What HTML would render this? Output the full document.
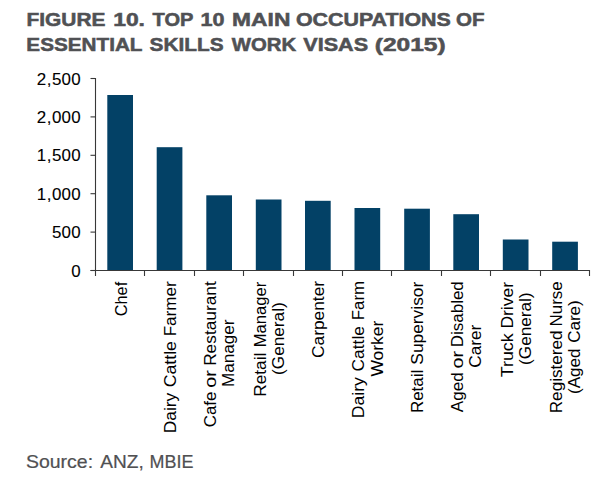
<!DOCTYPE html>
<html><head><meta charset="utf-8"><style>
html,body{margin:0;padding:0;background:#fff;width:600px;height:478px;overflow:hidden}
svg{display:block;font-family:"Liberation Sans",sans-serif}
</style></head><body>
<svg width="600" height="478" viewBox="0 0 600 478">
<rect x="0" y="0" width="600" height="478" fill="#fff"/>
<rect x="107.30" y="95.00" width="25.7" height="175.50" fill="#034166"/>
<rect x="156.70" y="147.20" width="25.7" height="123.30" fill="#034166"/>
<rect x="206.30" y="195.30" width="25.7" height="75.20" fill="#034166"/>
<rect x="255.80" y="199.50" width="25.7" height="71.00" fill="#034166"/>
<rect x="305.00" y="200.80" width="25.7" height="69.70" fill="#034166"/>
<rect x="354.50" y="208.00" width="25.7" height="62.50" fill="#034166"/>
<rect x="404.20" y="208.70" width="25.7" height="61.80" fill="#034166"/>
<rect x="453.30" y="214.20" width="25.7" height="56.30" fill="#034166"/>
<rect x="502.80" y="239.50" width="25.7" height="31.00" fill="#034166"/>
<rect x="552.20" y="241.70" width="25.7" height="28.80" fill="#034166"/>
<path d="M95.5 78 V276 M90.5 270.5 H589.5 V276" stroke="#383838" stroke-width="1.1" fill="none"/>
<path d="M90.5 78.50 H95.5" stroke="#383838" stroke-width="1.1"/>
<path d="M90.5 116.90 H95.5" stroke="#383838" stroke-width="1.1"/>
<path d="M90.5 155.30 H95.5" stroke="#383838" stroke-width="1.1"/>
<path d="M90.5 193.70 H95.5" stroke="#383838" stroke-width="1.1"/>
<path d="M90.5 232.10 H95.5" stroke="#383838" stroke-width="1.1"/>
<path d="M90.5 270.50 H95.5" stroke="#383838" stroke-width="1.1"/>
<path d="M144.50 270.5 V276" stroke="#383838" stroke-width="1.1"/>
<path d="M194.50 270.5 V276" stroke="#383838" stroke-width="1.1"/>
<path d="M243.50 270.5 V276" stroke="#383838" stroke-width="1.1"/>
<path d="M293.50 270.5 V276" stroke="#383838" stroke-width="1.1"/>
<path d="M342.50 270.5 V276" stroke="#383838" stroke-width="1.1"/>
<path d="M391.50 270.5 V276" stroke="#383838" stroke-width="1.1"/>
<path d="M441.50 270.5 V276" stroke="#383838" stroke-width="1.1"/>
<path d="M490.50 270.5 V276" stroke="#383838" stroke-width="1.1"/>
<path d="M540.50 270.5 V276" stroke="#383838" stroke-width="1.1"/>
<text transform="scale(1.04 1)" x="40.00 47.26 54.52 63.75 72.98" y="84.70" font-size="16.3" stroke="#000" stroke-width="0.1" text-anchor="middle">2,500</text>
<text transform="scale(1.04 1)" x="40.00 47.26 54.52 63.75 72.98" y="123.10" font-size="16.3" stroke="#000" stroke-width="0.1" text-anchor="middle">2,000</text>
<text transform="scale(1.04 1)" x="40.00 47.26 54.52 63.75 72.98" y="161.50" font-size="16.3" stroke="#000" stroke-width="0.1" text-anchor="middle">1,500</text>
<text transform="scale(1.04 1)" x="40.00 47.26 54.52 63.75 72.98" y="199.90" font-size="16.3" stroke="#000" stroke-width="0.1" text-anchor="middle">1,000</text>
<text transform="scale(1.04 1)" x="54.52 63.75 72.98" y="238.30" font-size="16.3" stroke="#000" stroke-width="0.1" text-anchor="middle">500</text>
<text transform="scale(1.04 1)" x="72.98" y="276.70" font-size="16.3" stroke="#000" stroke-width="0.1" text-anchor="middle">0</text>
<text x="26.52" y="26.30" font-size="19.1" font-weight="bold" fill="#505154" stroke="#505154" stroke-width="0.55" textLength="78.88" lengthAdjust="spacingAndGlyphs">FIGURE</text>
<text x="113.19" y="26.30" font-size="19.1" font-weight="bold" fill="#505154" stroke="#505154" stroke-width="0.55" textLength="31.78" lengthAdjust="spacingAndGlyphs">10.</text>
<text x="152.50" y="26.30" font-size="19.1" font-weight="bold" fill="#505154" stroke="#505154" stroke-width="0.55" textLength="40.91" lengthAdjust="spacingAndGlyphs">TOP</text>
<text x="200.62" y="26.30" font-size="19.1" font-weight="bold" fill="#505154" stroke="#505154" stroke-width="0.55" textLength="23.98" lengthAdjust="spacingAndGlyphs">10</text>
<text x="232.14" y="26.30" font-size="19.1" font-weight="bold" fill="#505154" stroke="#505154" stroke-width="0.55" textLength="58.23" lengthAdjust="spacingAndGlyphs">MAIN</text>
<text x="295.93" y="26.30" font-size="19.1" font-weight="bold" fill="#505154" stroke="#505154" stroke-width="0.55" textLength="154.85" lengthAdjust="spacingAndGlyphs">OCCUPATIONS</text>
<text x="456.13" y="26.30" font-size="19.1" font-weight="bold" fill="#505154" stroke="#505154" stroke-width="0.55" textLength="28.50" lengthAdjust="spacingAndGlyphs">OF</text>
<text x="26.34" y="50.80" font-size="19.1" font-weight="bold" fill="#505154" stroke="#505154" stroke-width="0.55" textLength="116.16" lengthAdjust="spacingAndGlyphs">ESSENTIAL</text>
<text x="149.63" y="50.80" font-size="19.1" font-weight="bold" fill="#505154" stroke="#505154" stroke-width="0.55" textLength="74.04" lengthAdjust="spacingAndGlyphs">SKILLS</text>
<text x="231.70" y="50.80" font-size="19.1" font-weight="bold" fill="#505154" stroke="#505154" stroke-width="0.55" textLength="64.42" lengthAdjust="spacingAndGlyphs">WORK</text>
<text x="303.30" y="50.80" font-size="19.1" font-weight="bold" fill="#505154" stroke="#505154" stroke-width="0.55" textLength="64.85" lengthAdjust="spacingAndGlyphs">VISAS</text>
<text x="374.74" y="50.80" font-size="19.1" font-weight="bold" fill="#505154" stroke="#505154" stroke-width="0.55" textLength="70.97" lengthAdjust="spacingAndGlyphs">(2015)</text>
<text transform="translate(126.50 316.26) rotate(-90)" font-size="16" textLength="34.46" lengthAdjust="spacingAndGlyphs">Chef</text>
<text transform="translate(175.90 336.37) rotate(-90)" font-size="16" textLength="54.95" lengthAdjust="spacingAndGlyphs">Farmer</text>
<text transform="translate(175.90 387.32) rotate(-90)" font-size="16" textLength="46.22" lengthAdjust="spacingAndGlyphs">Cattle</text>
<text transform="translate(175.90 433.22) rotate(-90)" font-size="16" textLength="40.52" lengthAdjust="spacingAndGlyphs">Dairy</text>
<text transform="translate(216.15 365.87) rotate(-90)" font-size="16" textLength="84.57" lengthAdjust="spacingAndGlyphs">Restaurant</text>
<text transform="translate(216.15 387.68) rotate(-90)" font-size="16" textLength="17.53" lengthAdjust="spacingAndGlyphs">or</text>
<text transform="translate(216.15 427.19) rotate(-90)" font-size="16" textLength="35.60" lengthAdjust="spacingAndGlyphs">Cafe</text>
<text transform="translate(234.45 387.05) rotate(-90)" font-size="16" textLength="67.38" lengthAdjust="spacingAndGlyphs">Manager</text>
<text transform="translate(265.55 347.21) rotate(-90)" font-size="16" textLength="65.44" lengthAdjust="spacingAndGlyphs">Manager</text>
<text transform="translate(265.55 396.82) rotate(-90)" font-size="16" textLength="44.13" lengthAdjust="spacingAndGlyphs">Retail</text>
<text transform="translate(283.85 374.89) rotate(-90)" font-size="16" textLength="72.58" lengthAdjust="spacingAndGlyphs">(General)</text>
<text transform="translate(324.10 357.97) rotate(-90)" font-size="16" textLength="77.06" lengthAdjust="spacingAndGlyphs">Carpenter</text>
<text transform="translate(364.35 320.17) rotate(-90)" font-size="16" textLength="39.14" lengthAdjust="spacingAndGlyphs">Farm</text>
<text transform="translate(364.35 371.41) rotate(-90)" font-size="16" textLength="45.28" lengthAdjust="spacingAndGlyphs">Cattle</text>
<text transform="translate(364.35 418.24) rotate(-90)" font-size="16" textLength="41.05" lengthAdjust="spacingAndGlyphs">Dairy</text>
<text transform="translate(382.65 376.58) rotate(-90)" font-size="16" textLength="55.96" lengthAdjust="spacingAndGlyphs">Worker</text>
<text transform="translate(422.90 364.64) rotate(-90)" font-size="16" textLength="82.86" lengthAdjust="spacingAndGlyphs">Supervisor</text>
<text transform="translate(422.90 413.10) rotate(-90)" font-size="16" textLength="43.28" lengthAdjust="spacingAndGlyphs">Retail</text>
<text transform="translate(463.15 347.22) rotate(-90)" font-size="16" textLength="66.01" lengthAdjust="spacingAndGlyphs">Disabled</text>
<text transform="translate(463.15 368.48) rotate(-90)" font-size="16" textLength="17.53" lengthAdjust="spacingAndGlyphs">or</text>
<text transform="translate(463.15 412.20) rotate(-90)" font-size="16" textLength="39.90" lengthAdjust="spacingAndGlyphs">Aged</text>
<text transform="translate(481.45 367.66) rotate(-90)" font-size="16" textLength="42.99" lengthAdjust="spacingAndGlyphs">Carer</text>
<text transform="translate(512.55 328.60) rotate(-90)" font-size="16" textLength="46.63" lengthAdjust="spacingAndGlyphs">Driver</text>
<text transform="translate(512.55 377.24) rotate(-90)" font-size="16" textLength="43.88" lengthAdjust="spacingAndGlyphs">Truck</text>
<text transform="translate(530.85 364.89) rotate(-90)" font-size="16" textLength="72.47" lengthAdjust="spacingAndGlyphs">(General)</text>
<text transform="translate(561.95 326.45) rotate(-90)" font-size="16" textLength="45.16" lengthAdjust="spacingAndGlyphs">Nurse</text>
<text transform="translate(561.95 413.24) rotate(-90)" font-size="16" textLength="82.78" lengthAdjust="spacingAndGlyphs">Registered</text>
<text transform="translate(580.25 342.85) rotate(-90)" font-size="16" textLength="42.62" lengthAdjust="spacingAndGlyphs">Care)</text>
<text transform="translate(580.25 394.04) rotate(-90)" font-size="16" textLength="45.68" lengthAdjust="spacingAndGlyphs">(Aged</text>
<text x="25.99" y="467.70" font-size="17.7" fill="#505052" stroke="#505052" stroke-width="0.2" textLength="67.08" lengthAdjust="spacingAndGlyphs">Source:</text>
<text x="100.20" y="467.70" font-size="17.7" fill="#505052" stroke="#505052" stroke-width="0.2" textLength="43.52" lengthAdjust="spacingAndGlyphs">ANZ,</text>
<text x="149.58" y="467.70" font-size="17.7" fill="#505052" stroke="#505052" stroke-width="0.2" textLength="43.87" lengthAdjust="spacingAndGlyphs">MBIE</text>
</svg>
</body></html>
